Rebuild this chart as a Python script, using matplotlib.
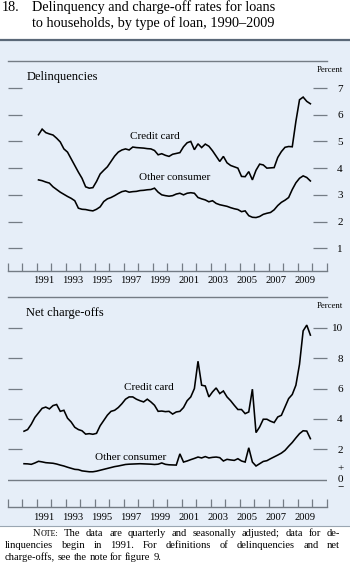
import numpy as np
import pandas as pd
import matplotlib
matplotlib.use("Agg")
import matplotlib.pyplot as plt
from matplotlib.patches import Rectangle
from matplotlib.lines import Line2D

plt.rcParams['font.family'] = ['Liberation Serif', 'DejaVu Serif']

# ---------------- data (quarterly, percent) ----------------
delinq_start = '1991Q1'
delinq_end = '2009Q4'
delinq_credit_card = [
    5.25, 5.46, 5.33, 5.28,   # 1991
    5.24, 5.12, 4.98, 4.72,   # 1992
    4.60, 4.35, 4.10, 3.85,   # 1993
    3.62, 3.30, 3.25, 3.27,   # 1994
    3.50, 3.78, 3.92, 4.05,   # 1995
    4.25, 4.45, 4.60, 4.68,   # 1996
    4.72, 4.68, 4.79, 4.77,   # 1997
    4.76, 4.75, 4.73, 4.72,   # 1998
    4.66, 4.50, 4.54, 4.48,   # 1999
    4.44, 4.52, 4.55, 4.58,   # 2000
    4.80, 4.95, 5.00, 4.69,   # 2001
    4.91, 4.77, 4.90, 4.82,   # 2002
    4.65, 4.45, 4.25, 4.44,   # 2003
    4.20, 4.10, 4.05, 4.00,   # 2004
    3.69, 3.68, 3.87, 3.56,   # 2005
    3.92, 4.15, 4.12, 4.00,   # 2006
    4.01, 4.02, 4.40, 4.62,   # 2007
    4.78, 4.81, 4.80, 5.75,   # 2008
    6.56, 6.66, 6.50, 6.41,   # 2009
]
delinq_other = [
    3.56, 3.53, 3.48, 3.44,
    3.30, 3.20, 3.10, 3.02,
    2.94, 2.87, 2.78, 2.50,
    2.46, 2.45, 2.42, 2.40,
    2.46, 2.55, 2.75, 2.85,
    2.90, 2.97, 3.05, 3.12,
    3.15, 3.10, 3.12, 3.13,
    3.16, 3.17, 3.19, 3.20,
    3.25, 3.10, 3.00, 2.97,
    2.95, 2.97, 3.03, 3.06,
    3.00, 3.06, 3.08, 3.06,
    2.90, 2.85, 2.81, 2.74,
    2.78, 2.68, 2.63, 2.60,
    2.57, 2.52, 2.48, 2.45,
    2.37, 2.40, 2.22, 2.16,
    2.15, 2.19, 2.27, 2.31,
    2.34, 2.44, 2.60, 2.72,
    2.80, 2.90, 3.20, 3.45,
    3.62, 3.71, 3.65, 3.52,
]

chargeoff_start = '1990Q1'
chargeoff_end = '2009Q4'
chargeoff_credit_card = [
    3.19, 3.30, 3.65, 4.10,   # 1990
    4.40, 4.70, 4.78, 4.66,   # 1991
    4.88, 4.95, 4.50, 4.57,   # 1992
    4.05, 3.80, 3.45, 3.30,   # 1993
    3.22, 3.00, 3.03, 2.99,   # 1994
    3.05, 3.55, 3.90, 4.25,   # 1995
    4.50, 4.57, 4.75, 5.00,   # 1996
    5.30, 5.45, 5.45, 5.30,   # 1997
    5.20, 5.12, 5.30, 5.12,   # 1998
    4.90, 4.50, 4.52, 4.48,   # 1999
    4.50, 4.32, 4.46, 4.50,   # 2000
    4.75, 5.20, 5.45, 6.00,   # 2001
    7.80, 6.22, 6.17, 5.45,   # 2002
    5.78, 6.04, 5.67, 5.84,   # 2003
    5.45, 5.20, 4.90, 4.62,   # 2004
    4.62, 4.35, 4.46, 5.96,   # 2005
    3.10, 3.47, 3.98, 3.98,   # 2006
    3.85, 3.76, 4.13, 4.24,   # 2007
    4.79, 5.34, 5.61, 6.22,   # 2008
    7.60, 9.80, 10.18, 9.52,  # 2009
]
chargeoff_other = [
    1.05, 1.04, 1.01, 1.10,
    1.21, 1.17, 1.12, 1.10,
    1.08, 1.03, 0.96, 0.90,
    0.82, 0.75, 0.68, 0.66,
    0.58, 0.55, 0.52, 0.52,
    0.56, 0.62, 0.68, 0.74,
    0.80, 0.86, 0.90, 0.95,
    1.00, 1.02, 1.03, 1.04,
    1.05, 1.04, 1.03, 1.02,
    1.00, 1.02, 1.10, 1.01,
    0.98, 0.97, 0.96, 1.70,
    1.16, 1.23, 1.32, 1.40,
    1.49, 1.43, 1.52, 1.43,
    1.47, 1.49, 1.45, 1.23,
    1.34, 1.30, 1.27, 1.38,
    1.23, 1.16, 2.10, 1.16,
    0.90, 1.05, 1.20, 1.25,
    1.38, 1.50, 1.62, 1.75,
    1.93, 2.20, 2.45, 2.75,
    3.03, 3.22, 3.20, 2.70,
]

year_labels = ['1991', '1993', '1995', '1997', '1999', '2001', '2003', '2005', '2007', '2009']
delinq_yticks = [1, 2, 3, 4, 5, 6, 7]
chargeoff_yticks = [2, 4, 6, 8, 10]


def quarter_positions(start, end):
    p = pd.period_range(start, end, freq='Q')
    return p.year.values + (p.quarter.values - 0.5) / 4.0


# ---------------- figure ----------------
W, H = 350, 571
fig = plt.figure(figsize=(W / 100, H / 100), dpi=100)
fig.patch.set_facecolor('white')

def fy(py):
    return 1 - py / H

PANEL = '#e6eef8'
GRAY = '#747c85'
fig.patches.append(Rectangle((0, fy(525.5)), 1, fy(41) - fy(525.5), transform=fig.transFigure,
                             facecolor=PANEL, edgecolor='none', zorder=-10))
fig.lines.append(Line2D([0, 1], [fy(40), fy(40)], transform=fig.transFigure,
                        color='#5a6878', lw=1.6, zorder=-5))
fig.lines.append(Line2D([0, 1], [fy(525.5), fy(525.5)], transform=fig.transFigure,
                        color='#9aa6b2', lw=0.8, zorder=-5))

# title
TFS = 10.3
fig.text(2 / W, fy(7.5), '18.', fontsize=TFS, va='center', ha='left')
fig.text(32 / W, fy(7.5), 'Delinquency and charge-off rates for loans', fontsize=TFS, va='center', ha='left')
fig.text(32 / W, fy(23.5), 'to households, by type of loan, 1990\u20132009', fontsize=TFS, va='center', ha='left')

left = 7.7 / W
width = (326.7 - 7.7) / W
ax1 = fig.add_axes([left, fy(270.7), width, (270.7 - 61.3) / H])
ax2 = fig.add_axes([left, fy(507), width, (507 - 296.7) / H])

year_ticks = list(range(1989, 2012))
label_pos = [int(y) + 0.5 for y in year_labels]

def style_axes(ax, yticks, ylim):
    ax.set_facecolor('none')
    ax.set_xlim(1989, 2011)
    ax.set_ylim(*ylim)
    for s in ['left', 'right']:
        ax.spines[s].set_visible(False)
    for s in ['top', 'bottom']:
        ax.spines[s].set_color(GRAY)
        ax.spines[s].set_linewidth(1.0)
    ax.set_xticks(year_ticks)
    ax.set_xticklabels([])
    ax.set_xticks(label_pos, minor=True)
    ax.set_xticklabels(year_labels, minor=True, fontsize=7.6)
    ax.tick_params(axis='x', which='major', direction='in', length=5.5, width=0.9, color=GRAY,
                   top=False, bottom=True)
    ax.tick_params(axis='x', which='minor', length=0, pad=4)
    ax.set_yticks(yticks)
    ax.set_yticklabels([str(v) for v in yticks], fontsize=8)
    ax.tick_params(axis='y', direction='in', length=10, width=0.9, color=GRAY,
                   left=True, right=True, labelleft=False, labelright=True, pad=11.5)
    for lab in ax.get_yticklabels():
        lab.set_horizontalalignment('right')

style_axes(ax1, delinq_yticks, (0.16, 8.0))
style_axes(ax2, chargeoff_yticks, (-1.8, 12.05))

xd = quarter_positions(delinq_start, delinq_end)
xc = quarter_positions(chargeoff_start, chargeoff_end)
LW = 1.15
ax1.plot(xd, delinq_credit_card, color='black', lw=LW, solid_joinstyle='miter')
ax1.plot(xd, delinq_other, color='black', lw=LW, solid_joinstyle='miter')
ax2.plot(xc, chargeoff_credit_card, color='black', lw=LW, solid_joinstyle='miter')
ax2.plot(xc, chargeoff_other, color='black', lw=LW, solid_joinstyle='miter')
ax2.axhline(0, color=GRAY, lw=1.0)

# labels
ax1.text(1990.33, 7.42, 'Delinquencies', fontsize=9, ha='left', va='center')
ax1.text(2012.15, 7.69, 'Percent', fontsize=6.3, ha='right', va='center', clip_on=False)
ax1.text(1999.14, 5.17, 'Credit card', fontsize=8, ha='center', va='center')
ax1.text(2000.48, 3.64, 'Other consumer', fontsize=8, ha='center', va='center')

ax2.text(1990.26, 10.97, 'Net charge-offs', fontsize=9, ha='left', va='center')
ax2.text(2012.15, 11.45, 'Percent', fontsize=6.3, ha='right', va='center', clip_on=False)
ax2.text(1998.74, 6.09, 'Credit card', fontsize=8, ha='center', va='center')
ax2.text(1997.5, 1.47, 'Other consumer', fontsize=8, ha='center', va='center')
ax2.text(2012.15, 0, '0', fontsize=8, ha='right', va='center', clip_on=False)
ax2.text(2012.15, 0.72, '+', fontsize=8, ha='right', va='center', clip_on=False)
ax2.text(2012.15, -0.55, '\u2212', fontsize=8, ha='right', va='center', clip_on=False)

# note (justified)
renderer = fig.canvas.get_renderer()
NFS = 7.6

def measure(s, fs):
    t = fig.text(0, 0, s, fontsize=fs)
    w = t.get_window_extent(renderer).width
    t.remove()
    return w

def draw_line(words, x0, x1, ypx, justify=True):
    widths = [sum(measure(s, fs) for s, fs in w) for w in words]
    if justify and len(words) > 1:
        gap = (x1 - x0 - sum(widths)) / (len(words) - 1)
    else:
        gap = measure('a b', NFS) - measure('ab', NFS)
    x = x0
    for w, wd in zip(words, widths):
        xx = x
        for s, fs in w:
            fig.text(xx / W, fy(ypx), s, fontsize=fs, ha='left', va='baseline')
            xx += measure(s, fs)
        x += wd + gap

def simple(text):
    return [[(w, NFS)] for w in text.split(' ')]

line1 = [[('N', NFS), ('OTE:', NFS * 0.76)]] + simple('The data are quarterly and seasonally adjusted; data for de-')
line2 = simple('linquencies begin in 1991. For definitions of delinquencies and net')
line3 = simple('charge-offs, see the note for figure 9.')
draw_line(line1, 33, 340, 536.5)
draw_line(line2, 5, 340, 548.3)
draw_line(line3, 5, 340, 560.1, justify=False)

fig.savefig('out.png', dpi=100, facecolor=fig.get_facecolor())
